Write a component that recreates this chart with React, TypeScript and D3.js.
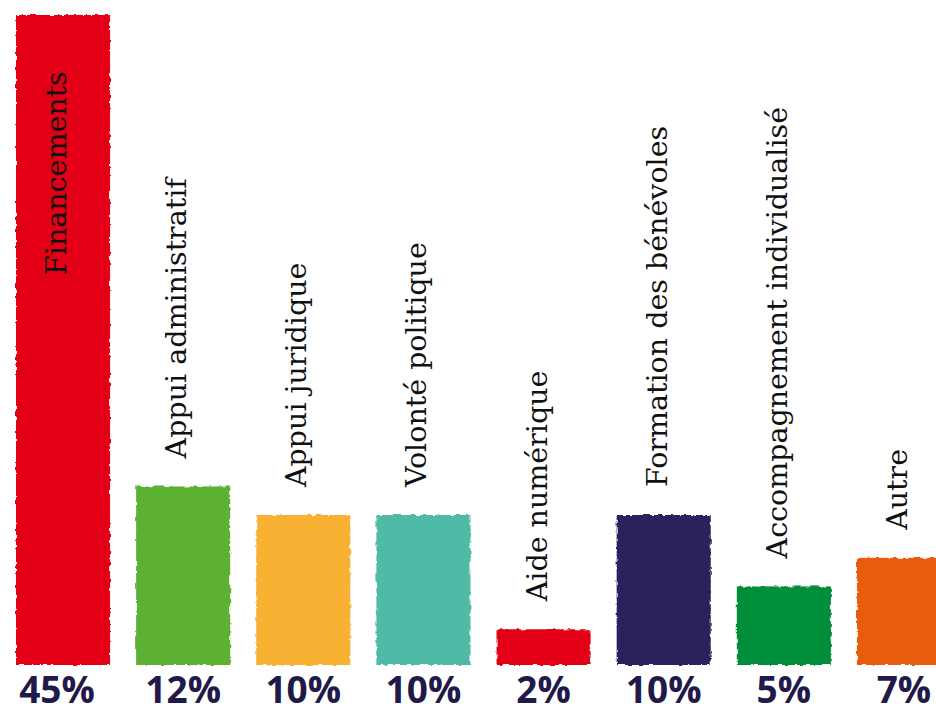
import React from "react";
import * as d3 from "d3";

const categories = [
  "Financements",
  "Appui administratif",
  "Appui juridique",
  "Volonté politique",
  "Aide numérique",
  "Formation des bénévoles",
  "Accompagnement individualisé",
  "Autre",
];
const values = [45, 12, 10, 10, 2, 10, 5, 7];
const percentLabels = ["45%", "12%", "10%", "10%", "2%", "10%", "5%", "7%"];
const colors = ["#e30613", "#5bb031", "#f8b133", "#4fbaa6", "#e30613", "#2a235b", "#008e3b", "#e85d0f"];

const W = 936;
const H = 706;
const baseline = 665;

export default function App() {
  const x = d3
    .scaleBand<string>()
    .domain(categories)
    .range([16, 951])
    .paddingInner(0.217)
    .paddingOuter(0);
  const y = d3.scaleLinear().domain([-0.5, 45]).range([baseline, 15]);
  const bw = x.bandwidth();

  return (
    <svg
      width={W}
      height={H}
      viewBox={`0 0 ${W} ${H}`}
      style={{ position: "absolute", left: 0, top: 0, background: "#fff" }}
    >
      <defs>
        <filter id="rough" x="-5%" y="-5%" width="110%" height="110%">
          <feTurbulence type="fractalNoise" baseFrequency="0.18" numOctaves="2" seed="3" result="noise" />
          <feDisplacementMap in="SourceGraphic" in2="noise" scale="4" xChannelSelector="R" yChannelSelector="G" />
        </filter>
      </defs>
      <rect x={0} y={0} width={W} height={H} fill="#fff" />
      {categories.map((c, i) => {
        const x0 = x(c) as number;
        const top = y(values[i]);
        const cx = x0 + bw / 2;
        const inside = i === 0;
        const labelY = inside ? top + 260 : top - 28;
        return (
          <g key={c}>
            <rect
              x={x0}
              y={top}
              width={bw}
              height={baseline - top}
              fill={colors[i]}
              filter="url(#rough)"
            />
            <text
              transform={`translate(${cx + 3},${labelY}) rotate(-90)`}
              textAnchor="start"
              fontFamily="'DejaVu Serif', serif"
              fontSize={28.5}
              fill="#111"
            >
              {c}
            </text>
            <text
              x={cx - (i === 0 ? 6 : 0)}
              y={703}
              textAnchor="middle"
              fontFamily="'Open Sans', sans-serif"
              fontWeight={700}
              fontSize={37}
              fill="#1f1a4a"
            >
              {percentLabels[i]}
            </text>
          </g>
        );
      })}
    </svg>
  );
}
